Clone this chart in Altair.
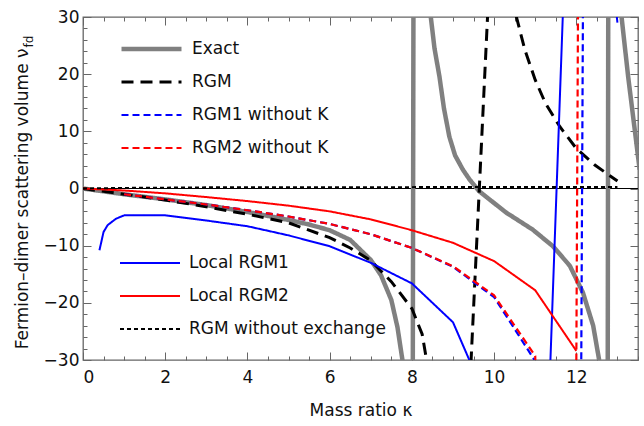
import altair as alt
import pandas as pd

# ---------------- data ----------------
exact_x = [0, 1, 2, 3, 4, 5, 5.5, 6, 6.5, 7, 7.25, 7.5, 7.65, 7.77, 7.88, 7.98,
           8.08, 8.2, 8.3, 8.46, 8.55, 8.67, 8.78, 8.91, 9.05, 9.24, 9.4, 9.64, 10.29, 10.94, 11.43, 11.84,
           12.16, 12.41, 12.55, 12.65, 12.73, 12.81, 12.95, 13.1, 13.26, 13.46, 13.54]
exact_y = [0, -1.0, -1.9, -2.9, -4.1, -5.5, -6.3, -7.3, -9.0, -12.5, -15.2, -19.5, -24.3, -30, -45, -200,
           200, 90, 50, 30, 24.5, 19.6, 14.0, 9.1, 5.8, 3.3, 1.6, -0.5, -4.2, -7.2, -10.1, -13.5,
           -18.2, -24.0, -29.8, -50, -200, 200, 60, 30, 19.6, 8.0, 3.3]

rgm_x = [0, 1, 2, 3, 4, 5, 6, 6.5, 7, 7.5, 8, 8.25, 8.5, 9.0, 9.4, 9.9, 10.4, 10.75, 11, 11.25, 11.6, 12, 12.45, 13]
rgm_y = [0, -1.0, -2.0, -3.2, -4.5, -6.0, -8.6, -10.4, -12.6, -16.3, -21.0, -25.5, -36, -150, -36, 39, 34,
         24.2, 19.0, 14.9, 10.8, 7.0, 4.1, 1.3]

rgm1nok_x = [1, 2, 3, 4, 5, 6, 7, 8, 9, 10, 11, 11.94, 12.34]
rgm1nok_y = [-1.0, -1.9, -2.8, -3.8, -4.9, -6.2, -8.0, -10.4, -13.7, -19.0, -30.2, -300, 300]

rgm2nok_x = [1, 2, 3, 4, 5, 6, 7, 8, 9, 10, 11, 11.82, 12.22]
rgm2nok_y = [-1.0, -1.9, -2.8, -3.8, -4.9, -6.2, -8.0, -10.4, -13.6, -18.7, -29.3, -300, 300]

local1_x = [0.4, 0.5, 0.6, 0.8, 1, 2, 3, 4, 5, 6, 7, 8, 9, 10, 11, 12, 13]
local1_y = [-10.8, -7.6, -6.4, -5.3, -4.7, -4.7, -5.6, -6.6, -8.2, -10.1, -13.0, -16.6, -23.4, -40, -104, 96, 29]

local2_x = [0, 1, 2, 3, 4, 5, 6, 7, 8, 9, 10, 11, 12]
local2_y = [0, -0.35, -0.85, -1.5, -2.2, -3.0, -4.0, -5.4, -7.3, -9.5, -12.7, -17.8, -28.4]

noexch_x = [0, 1, 2, 3, 4, 5, 6, 7, 8, 9, 10, 11, 12, 13]
noexch_y = [0, 0.1, 0.15, 0.2, 0.2, 0.22, 0.22, 0.24, 0.24, 0.25, 0.25, 0.26, 0.26, 0.27]

zero_line = [0]

x_major = [0, 2, 4, 6, 8, 10, 12]
x_ticks = [i * 0.5 for i in range(28)]
y_major = [-30, -20, -10, 0, 10, 20, 30]
y_ticks = list(range(-30, 31, 2))

group1 = ["Exact", "RGM", "RGM1 without K", "RGM2 without K"]
group2 = ["Local RGM1", "Local RGM2", "RGM without exchange"]

# ---------------- styles ----------------
FONT = "DejaVu Sans"
FRAME = "#666666"
xscale = alt.Scale(domain=[0, 13.5], nice=False, zero=False)
yscale = alt.Scale(domain=[-30, 30], nice=False, zero=False)

g1_colors = ["#808080", "#000000", "#0000ff", "#ff0000"]
g1_dash = [[1, 0], [12, 7], [7, 4], [7, 4]]
g1_width = [4.5, 3, 2.2, 2.2]
g2_colors = ["#0000ff", "#ff0000", "#000000"]
g2_dash = [[1, 0], [1, 0], [4, 3]]
g2_width = [2, 2, 2]


def sdf(name, xs, ys):
    return pd.DataFrame({"kappa": xs, "nu": ys, "series": name})


def legend(ly):
    return alt.Legend(orient="none", legendX=36, legendY=ly, title=None,
                      symbolType="stroke", symbolSize=3600, clipHeight=33,
                      rowPadding=0, padding=0, labelOffset=8, labelLimit=400,
                      labelFont=FONT, labelFontSize=17, labelColor="#111111")


def line(df, names, colors, dashes, widths, lg):
    return alt.Chart(df).mark_line(clip=True).encode(
        x=alt.X("kappa:Q", scale=xscale, axis=None),
        y=alt.Y("nu:Q", scale=yscale, axis=None),
        color=alt.Color("series:N", scale=alt.Scale(domain=names, range=colors), legend=lg),
        strokeDash=alt.StrokeDash("series:N", scale=alt.Scale(domain=names, range=dashes), legend=lg),
        strokeWidth=alt.StrokeWidth("series:N", scale=alt.Scale(type="ordinal", domain=names, range=widths), legend=lg),
        order=alt.Order("kappa:Q"),
    )


lg1 = legend(15.5)
lg2 = legend(229.5)
g1 = alt.layer(
    line(sdf("Exact", exact_x, exact_y), group1, g1_colors, g1_dash, g1_width, lg1),
    line(sdf("RGM", rgm_x, rgm_y), group1, g1_colors, g1_dash, g1_width, lg1),
    line(sdf("RGM1 without K", rgm1nok_x, rgm1nok_y), group1, g1_colors, g1_dash, g1_width, lg1),
    line(sdf("RGM2 without K", rgm2nok_x, rgm2nok_y), group1, g1_colors, g1_dash, g1_width, lg1),
)
g2 = alt.layer(
    line(sdf("Local RGM1", local1_x, local1_y), group2, g2_colors, g2_dash, g2_width, lg2),
    line(sdf("Local RGM2", local2_x, local2_y), group2, g2_colors, g2_dash, g2_width, lg2),
    line(sdf("RGM without exchange", noexch_x, noexch_y), group2, g2_colors, g2_dash, g2_width, lg2),
)

carrier_df = sdf("carrier", noexch_x, noexch_y)

xtick_size = {"condition": {"test": "datum.value % 2 === 0", "value": 8}, "value": 4}
ytick_size = {"condition": {"test": "datum.value % 10 === 0", "value": 8}, "value": 4}

# labels + titles (bottom / left)
carrier_a = alt.Chart(carrier_df).mark_point(opacity=0).encode(
    x=alt.X("kappa:Q", scale=xscale, axis=alt.Axis(
        orient="bottom", values=x_major, ticks=False, domain=False, grid=False,
        labelFont=FONT, labelFontSize=17, labelColor="#111111", labelPadding=9,
        title="Mass ratio κ", titleFont=FONT, titleFontSize=17, titleFontWeight="normal",
        titleColor="#111111", titlePadding=17)),
    y=alt.Y("nu:Q", scale=yscale, axis=alt.Axis(
        orient="left", values=y_major, ticks=False, domain=False, grid=False,
        labelFont=FONT, labelFontSize=17, labelColor="#111111", labelPadding=4,
        title="Fermion–dimer scattering volume ν", titleFont=FONT, titleFontSize=17,
        titleFontWeight="normal", titleColor="#111111", titleAngle=-90,
        titleX=-56, titleY=31, titleAlign="right", titleBaseline="alphabetic")),
)
# inward ticks on bottom and left edges (+ subscript of the y title)
carrier_b = alt.Chart(carrier_df).mark_point(opacity=0).encode(
    x=alt.X("kappa:Q", scale=xscale, axis=alt.Axis(
        orient="top", offset=-343, values=x_ticks, labels=False, domain=False, grid=False,
        tickSize=xtick_size, tickColor=FRAME, tickWidth=1, title=None)),
    y=alt.Y("nu:Q", scale=yscale, axis=alt.Axis(
        orient="right", offset=-555, values=y_ticks, labels=False, domain=False, grid=False,
        tickSize=ytick_size, tickColor=FRAME, tickWidth=1,
        title="fd", titleFont=FONT, titleFontSize=12, titleFontWeight="normal",
        titleColor="#111111", titleAngle=-90, titleX=-51, titleY=30,
        titleAlign="left", titleBaseline="alphabetic")),
)
# inward ticks on top and right edges
carrier_c = alt.Chart(carrier_df).mark_point(opacity=0).encode(
    x=alt.X("kappa:Q", scale=xscale, axis=alt.Axis(
        orient="bottom", offset=-343, values=x_ticks, labels=False, domain=False, grid=False,
        tickSize=xtick_size, tickColor=FRAME, tickWidth=1, title=None)),
    y=alt.Y("nu:Q", scale=yscale, axis=alt.Axis(
        orient="left", offset=-555, values=y_ticks, labels=False, domain=False, grid=False,
        tickSize=ytick_size, tickColor=FRAME, tickWidth=1, title=None)),
)

zero_rule = alt.Chart(pd.DataFrame({"nu": zero_line})).mark_rule(color="black", strokeWidth=1).encode(
    y=alt.Y("nu:Q", scale=yscale, axis=None)
)

chart = alt.layer(
    carrier_a, carrier_b, carrier_c, zero_rule, g1, g2
).resolve_scale(
    color="independent", strokeDash="independent", strokeWidth="independent"
).resolve_axis(
    x="independent", y="independent"
).properties(
    width=555, height=343,
    padding={"left": 83, "top": 17, "right": 6, "bottom": 66},
    autosize=alt.AutoSizeParams(type="none"),
    background="white",
).configure_view(
    stroke=FRAME, strokeWidth=1.3
)

chart.save("out.html", embed_options={"renderer": "svg", "actions": False})
